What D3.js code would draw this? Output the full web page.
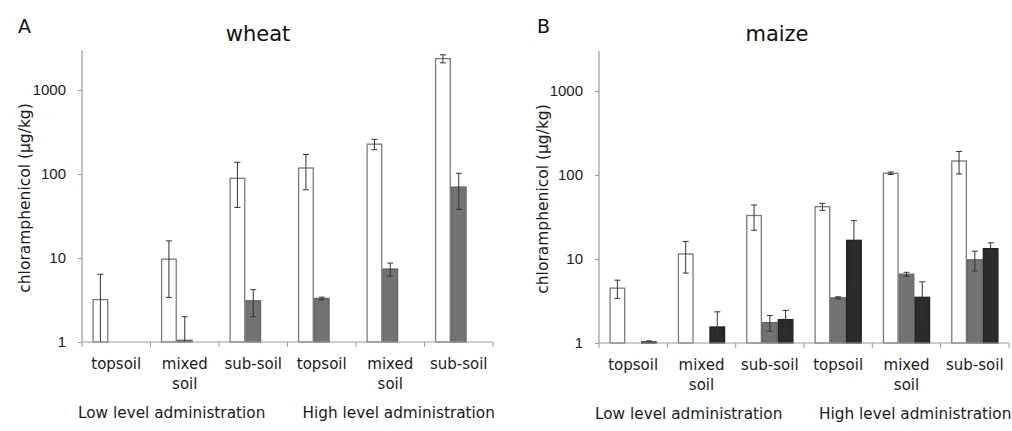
<!DOCTYPE html>
<html>
<head>
<meta charset="utf-8">
<script src="https://cdn.jsdelivr.net/npm/d3@7"></script>
<style>
  body { margin: 0; background: #fff; }
  svg { display: block; }
</style>
</head>
<body>
<svg id="chart" width="1012" height="431"></svg>
<script>
// chloramphenicol in wheat / maize
/////////////////////////////////

// categories and groups
var categories = [["topsoil"], ["mixed", "soil"], ["sub-soil"], ["topsoil"], ["mixed", "soil"], ["sub-soil"]];
var groups = ["Low level administration", "High level administration"];
var seriesKeys = ["s1", "s2", "s3"];
var yTicks = [1, 10, 100, 1000];

// wheat (panel A)
var wheatWhite = [3.2, 9.7, 89, 118, 227, 2370];
var wheatWhiteErr = [3.2, 6.3, 49, 53, 32, 260];
var wheatGray = [0, 1.05, 3.1, 3.3, 7.4, 70];
var wheatGrayErr = [0, 0.95, 1.1, 0.12, 1.3, 32];
var wheatBlack = [0, 0, 0, 0, 0, 0];
var wheatBlackErr = [0, 0, 0, 0, 0, 0];

// maize (panel B)
var maizeWhite = [4.5, 11.5, 33, 42, 105, 147];
var maizeWhiteErr = [1.1, 4.7, 11, 4, 3.5, 44];
var maizeGray = [0, 0, 1.75, 3.45, 6.6, 9.8];
var maizeGrayErr = [0, 0, 0.37, 0.1, 0.35, 2.6];
var maizeBlack = [1.03, 1.55, 1.9, 16.7, 3.5, 13.3];
var maizeBlackErr = [0.03, 0.8, 0.55, 12, 1.85, 2.3];

var fills = { s1: '#ffffff', s2: '#737373', s3: '#2b2b2b' };
var strokes = { s1: '#7a7a7a', s2: '#666', s3: '#222' };
var textFont = '"DejaVu Sans", Verdana, sans-serif';

var svg = d3.select('#chart');

function panel(opts) {
    var x0 = opts.x0, x1 = opts.x1, yTop = opts.yTop, yBot = opts.yBot;

    var y = d3.scaleLog().domain([1, 3000]).range([yBot, yTop]);
    var x = d3.scaleBand().domain(d3.range(categories.length)).range([x0, x1]).padding(0);
    var xs = d3.scaleBand().domain(seriesKeys)
        .range([10.5, x.bandwidth() - 10.5]).padding(0);

    var g = svg.append('g');

    // letter + title
    g.append('text').attr('x', opts.letterX).attr('y', 33)
        .style('font-family', textFont).style('font-size', '19px').style('fill', '#111')
        .text(opts.letter);
    g.append('text').attr('x', opts.titleX).attr('y', 41).attr('text-anchor', 'middle')
        .style('font-family', textFont).style('font-size', '21px').style('fill', '#111')
        .text(opts.title);

    // y axis
    var yAxis = d3.axisLeft(y).tickValues(yTicks).tickFormat(d3.format('d')).tickSize(4).tickPadding(12);
    var ya = g.append('g').attr('transform', 'translate(' + x0 + ',0)').call(yAxis);
    ya.select('.domain').remove();
    ya.append('line').attr('y1', yTop).attr('y2', yBot).attr('stroke', '#999').attr('stroke-width', 1.2);
    ya.selectAll('.tick line').attr('stroke', '#999');
    ya.selectAll('.tick text').style('font-family', '"Liberation Sans", Arial, sans-serif')
        .style('font-size', '15px').style('fill', '#1a1a1a');

    g.append('text')
        .attr('transform', 'translate(' + opts.ylabX + ',' + ((yTop + yBot) / 2 + 2) + ') rotate(-90)')
        .attr('text-anchor', 'middle')
        .style('font-family', textFont).style('font-size', '15.5px').style('fill', '#1a1a1a')
        .text('chloramphenicol (µg/kg)');

    // bars
    var rows = [];
    categories.forEach(function (c, i) {
        seriesKeys.forEach(function (k, j) {
            rows.push({ cat: i, key: k, v: opts.values[j][i], e: opts.errs[j][i] });
        });
    });
    var shown = rows.filter(function (d) { return d.v > 1; });

    g.selectAll('rect.bar').data(shown).enter().append('rect')
        .attr('class', 'bar')
        .attr('x', function (d) { return x(d.cat) + xs(d.key) + 0.6; })
        .attr('width', xs.bandwidth() - 1.2)
        .attr('y', function (d) { return y(d.v); })
        .attr('height', function (d) { return yBot - y(d.v); })
        .attr('fill', function (d) { return fills[d.key]; })
        .attr('stroke', function (d) { return strokes[d.key]; })
        .attr('stroke-width', 1.3);

    // error bars
    var eb = g.selectAll('g.err').data(shown.filter(function (d) { return d.e > 0; }))
        .enter().append('g').attr('class', 'err')
        .attr('transform', function (d) { return 'translate(' + (x(d.cat) + xs(d.key) + xs.bandwidth() / 2) + ',0)'; });
    eb.append('line')
        .attr('y1', function (d) { return y(d.v + d.e); })
        .attr('y2', function (d) { return d.v - d.e > 1 ? y(d.v - d.e) : yBot; })
        .attr('stroke', '#333').attr('stroke-width', 1);
    eb.append('line')
        .attr('x1', -3).attr('x2', 3)
        .attr('y1', function (d) { return y(d.v + d.e); })
        .attr('y2', function (d) { return y(d.v + d.e); })
        .attr('stroke', '#333').attr('stroke-width', 1);
    eb.filter(function (d) { return d.v - d.e > 1; }).append('line')
        .attr('x1', -3).attr('x2', 3)
        .attr('y1', function (d) { return y(d.v - d.e); })
        .attr('y2', function (d) { return y(d.v - d.e); })
        .attr('stroke', '#333').attr('stroke-width', 1);

    // x axis
    var xa = g.append('g');
    xa.append('line').attr('x1', x0).attr('x2', x1).attr('y1', yBot).attr('y2', yBot)
        .attr('stroke', '#999').attr('stroke-width', 1.2);
    xa.selectAll('line.sep').data(d3.range(categories.length + 1)).enter().append('line')
        .attr('class', 'sep')
        .attr('x1', function (i) { return x0 + i * x.bandwidth(); })
        .attr('x2', function (i) { return x0 + i * x.bandwidth(); })
        .attr('y1', yBot).attr('y2', yBot + 5)
        .attr('stroke', '#999');

    var cl = xa.selectAll('text.cat').data(categories).enter().append('text')
        .attr('class', 'cat')
        .attr('text-anchor', 'middle')
        .style('font-family', textFont).style('font-size', '15px').style('fill', '#1a1a1a');
    cl.selectAll('tspan').data(function (d, i) { return d.map(function (s) { return { s: s, i: i }; }); })
        .enter().append('tspan')
        .attr('x', function (d) { return x(d.i) + x.bandwidth() / 2; })
        .attr('y', function (d, k) { return yBot + 27 + k * 19.5; })
        .text(function (d) { return d.s; });

    // group labels
    xa.selectAll('text.grp').data(groups).enter().append('text')
        .attr('class', 'grp')
        .attr('x', function (d, i) { return i === 0 ? x0 - 4 : x(3) + 15; })
        .attr('y', yBot + 76)
        .style('font-family', textFont).style('font-size', '15.3px').style('fill', '#1a1a1a')
        .text(function (d) { return d; });
}

panel({
    letter: 'A', letterX: 18, title: 'wheat', titleX: 258, ylabX: 30,
    x0: 82, x1: 493, yTop: 50, yBot: 342,
    values: [wheatWhite, wheatGray, wheatBlack],
    errs: [wheatWhiteErr, wheatGrayErr, wheatBlackErr]
});

panel({
    letter: 'B', letterX: 537, title: 'maize', titleX: 777, ylabX: 548,
    x0: 599, x1: 1009, yTop: 51, yBot: 343,
    values: [maizeWhite, maizeGray, maizeBlack],
    errs: [maizeWhiteErr, maizeGrayErr, maizeBlackErr]
});
</script>
</body>
</html>
